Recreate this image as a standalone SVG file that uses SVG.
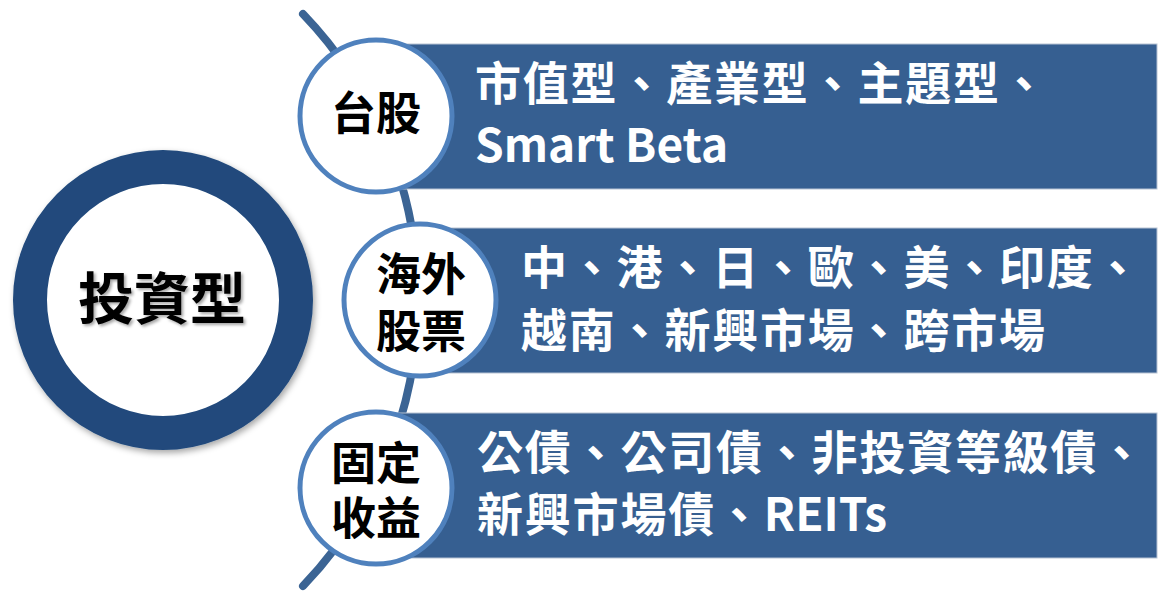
<svg xmlns="http://www.w3.org/2000/svg" width="1162" height="595" viewBox="0 0 1162 595">
<defs>
<style>
.bar{fill:#365F91;stroke:#B7C3D3;stroke-width:1}
.sc{fill:#FFFFFF;stroke:#4F81BD;stroke-width:5}
.wt{fill:#FFFFFF;font-family:"Noto Sans CJK TC","Noto Sans",sans-serif;font-size:46px;font-weight:700;letter-spacing:1.8px}
.lat{letter-spacing:0px}
.bt{fill:#000000;font-family:"Noto Sans CJK TC","Noto Sans",sans-serif;font-size:45px;font-weight:700;text-anchor:middle}
.conn{fill:none;stroke:#3B6494;stroke-width:8;stroke-linecap:round}
</style>
<filter id="sh" x="-20%" y="-20%" width="140%" height="140%">
<feDropShadow dx="2" dy="3" stdDeviation="3" flood-color="#000" flood-opacity="0.35"/>
</filter>
<filter id="tsh" x="-20%" y="-20%" width="140%" height="140%">
<feDropShadow dx="2" dy="2" stdDeviation="1.5" flood-color="#000" flood-opacity="0.35"/>
</filter>
</defs>
<rect width="1162" height="595" fill="#FFFFFF"/>
<g id="connectors">
<path class="conn" d="M 303 14 A 413 413 0 0 1 303 586"/>
</g>
<g id="node-tw">
<rect class="bar" x="376" y="44" width="781" height="145"/>
<text class="wt" x="475" y="100">市值型、產業型、主題型、</text>
<text class="wt lat" x="475" y="162">Smart Beta</text>
<circle class="sc" cx="376" cy="116" r="76"/>
<text class="bt" x="376" y="130">台股</text>
</g>
<g id="node-overseas">
<rect class="bar" x="420" y="228" width="737" height="145"/>
<text class="wt" x="521" y="284">中、港、日、歐、美、印度、</text>
<text class="wt" x="521" y="347">越南、新興市場、跨市場</text>
<circle class="sc" cx="420" cy="300" r="76"/>
<text class="bt" x="421" y="291">海外</text>
<text class="bt" x="421" y="348">股票</text>
</g>
<g id="node-fixed">
<rect class="bar" x="376" y="413" width="781" height="145"/>
<text class="wt" x="477" y="469">公債、公司債、非投資等級債、</text>
<text class="wt" x="477" y="531">新興市場債、<tspan class="lat">REITs</tspan></text>
<circle class="sc" cx="376" cy="488" r="76"/>
<text class="bt" x="376" y="480">固定</text>
<text class="bt" x="376" y="535">收益</text>
</g>
<g id="node-main">
<circle cx="163" cy="300" r="133" fill="#FFFFFF" stroke="#214A7C" stroke-width="34" filter="url(#sh)"/>
<text x="162" y="319" fill="#000" font-family="Noto Sans CJK TC, Noto Sans, sans-serif" font-size="56" font-weight="700" text-anchor="middle" filter="url(#tsh)">投資型</text>
</g>
</svg>
